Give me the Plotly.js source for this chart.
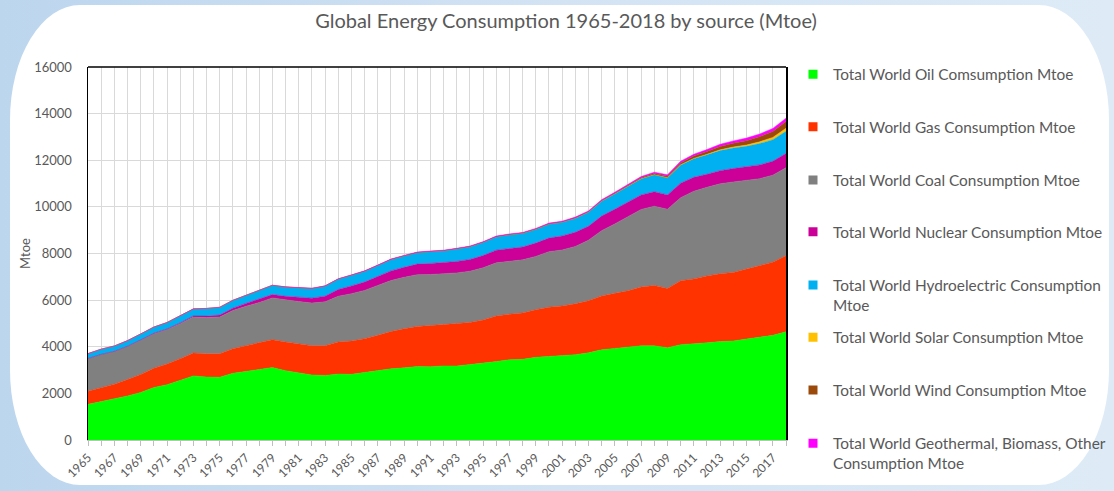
<!DOCTYPE html>
<html>
<head>
<meta charset="utf-8">
<script src="https://cdn.plot.ly/plotly-3.0.1.min.js"></script>
<style>
  html, body { margin: 0; padding: 0; }
  body { width: 1114px; height: 491px; overflow: hidden; position: relative;
         background: linear-gradient(to right, #bcd6ee 0%, #d3e3f4 50%, #deebf7 100%); }
  #panel { position: absolute; left: 10px; top: 5px; width: 1099px; height: 480px;
           background: #ffffff; border-radius: 70px / 115px; }
  #chart { position: absolute; left: 0; top: 0; width: 1114px; height: 491px; }
</style>
</head>
<body>
<div id="panel"></div>
<div id="chart"></div>
<script>
const years = [];
for (let y = 1965; y <= 2018; y++) years.push(y);

const oil = [1530,1641,1751,1890,2042,2252,2371,2555,2750,2700,
             2694,2862,2950,3050,3108,2975,2880,2789,2772,2828,
             2818,2897,2963,3053,3095,3148,3143,3178,3173,3232,
             3280,3364,3447,3460,3545,3579,3602,3660,3740,3870,
             3930,3980,4040,4040,3960,4090,4120,4170,4220,4250,
             4330,4410,4490,4640];
const gas = [560,603,644,700,768,828,885,932,978,995,
             1002,1054,1088,1127,1196,1228,1248,1255,1274,1379,
             1425,1450,1527,1597,1675,1725,1766,1770,1805,1809,
             1866,1955,1952,1988,2040,2118,2150,2180,2230,2310,
             2360,2420,2520,2590,2540,2740,2790,2870,2910,2940,
             3000,3060,3140,3260];
const coal = [1400,1420,1400,1420,1470,1480,1480,1500,1550,1560,
              1580,1640,1700,1720,1790,1800,1810,1830,1880,1960,
              2030,2070,2140,2190,2210,2220,2190,2180,2190,2200,
              2240,2280,2280,2280,2290,2380,2400,2460,2600,2800,
              2980,3170,3330,3400,3400,3560,3760,3800,3860,3880,
              3800,3740,3730,3780];
const nuclear = [6,8,9,12,14,18,26,35,46,59,
                 82,97,122,142,147,161,193,211,242,288,
                 336,358,384,414,428,453,474,477,492,503,
                 526,545,540,551,571,584,601,610,598,625,
                 627,635,622,620,614,626,600,560,563,575,
                 583,591,596,611];
const hydro = [209,223,228,238,254,265,276,290,297,328,
               333,337,350,374,393,399,406,416,435,450,
               461,467,475,491,492,496,514,515,543,550,
               571,577,590,592,596,603,594,604,607,643,
               664,688,698,730,734,780,794,832,862,880,
               883,914,925,949];
const solar = [0,0,0,0,0,0,0,0,0,0,
               0,0,0,0,0,0,0,0,0,0,
               0,0,0,0,0,0.1,0.1,0.1,0.1,0.1,
               0.1,0.1,0.2,0.2,0.2,0.3,0.4,0.5,0.6,0.8,
               1.0,1.3,1.7,2.8,4.6,7.7,14.5,22.6,31.5,43.1,
               56.2,74.5,100,132];
const wind = [0,0,0,0,0,0,0,0,0,0,
              0,0,0,0,0,0,0,0,0,0,
              0.1,0.1,0.2,0.3,0.5,0.9,1,1.2,1.4,1.7,
              1.8,2.7,3.4,4.6,5.7,7,8.7,12,14,19,
              23,30,39,50,63,78,99,118,143,161,
              187,215,255,287];
const other = [2,2,2,3,3,3,3,4,4,4,
               5,5,6,6,7,7,8,9,10,11,
               13,14,15,16,18,19,20,21,22,23,
               24,25,27,28,29,32,32,35,37,40,
               42,46,50,56,61,73,79,87,94,101,
               110,120,130,142];

const seriesNames = [
  'Total World Oil Comsumption Mtoe',
  'Total World Gas Consumption Mtoe',
  'Total World Coal Consumption Mtoe',
  'Total World Nuclear Consumption Mtoe',
  'Total World Hydroelectric Consumption<br>Mtoe',
  'Total World Solar Consumption Mtoe',
  'Total World Wind Consumption Mtoe',
  'Total World Geothermal, Biomass, Other<br>Consumption Mtoe'
];
const seriesValues = [oil, gas, coal, nuclear, hydro, solar, wind, other];
const colors = ['#00ff00','#ff3300','#808080','#cc0099','#00b0f0','#ffc000','#9c4a0c','#ff00ff'];

const tickText = years.map(y => ((y - 1965) % 2 === 0) ? String(y) : '');

const traces = [];
seriesValues.forEach((vals, i) => {
  traces.push({
    type: 'scatter', x: years, y: vals, name: seriesNames[i],
    stackgroup: 'one', mode: 'lines',
    line: {width: 0.5, color: colors[i]}, fillcolor: colors[i],
    showlegend: false, hoverinfo: 'x+y+name'
  });
});
// legend entries (square swatches like the original)
const legendIds = ['legend','legend2','legend3','legend4','legend5','legend6','legend7','legend8'];
seriesNames.forEach((n, i) => {
  traces.push({
    type: 'scatter', x: [null], y: [null], name: n, mode: 'markers',
    marker: {symbol: 'square', size: 9, color: colors[i]},
    showlegend: true, legend: legendIds[i], hoverinfo: 'skip'
  });
});

const L = 88, R = 786, T = 67, B = 440;
const FW = 1114, FH = 491;
// y pixel of the first text line of each legend entry
const legendY = [74.3, 126.7, 180, 231.7, 285, 337.3, 390, 443.3];
const legendFont = {family: 'Lato, "Open Sans", sans-serif', size: 15.4, color: '#595959'};

const layout = {
  width: FW, height: FH,
  margin: {l: L, r: FW - R, t: T, b: FH - B, pad: 0, autoexpand: false},
  paper_bgcolor: 'rgba(0,0,0,0)',
  plot_bgcolor: '#ffffff',
  font: {family: 'Lato, "Open Sans", sans-serif', color: '#595959'},
  title: {text: 'Global Energy Consumption 1965-2018 by source (Mtoe)',
          font: {family: 'Lato, "Open Sans", sans-serif', size: 20, color: '#595959'},
          xref: 'container', x: 566 / FW, xanchor: 'center',
          yref: 'container', y: 1 - 21 / FH, yanchor: 'middle'},
  xaxis: {
    range: [1965, 2018], tickmode: 'array', tickvals: years, ticktext: tickText,
    tickangle: -45, tickfont: {size: 12, color: '#595959'},
    ticks: 'outside', ticklen: 5, tickcolor: '#bfbfbf', automargin: false,
    showgrid: true, gridcolor: '#d9d9d9', gridwidth: 1,
    showline: true, linecolor: '#bfbfbf', linewidth: 1, zeroline: false, fixedrange: true
  },
  yaxis: {
    range: [0, 16000], tickmode: 'linear', tick0: 0, dtick: 2000, tickformat: 'd',
    tickfont: {size: 13, color: '#595959'}, ticks: '', ticklabelstandoff: 12,
    showgrid: true, gridcolor: '#d9d9d9', gridwidth: 1, automargin: false,
    showline: true, linecolor: '#000000', linewidth: 1.5, mirror: true,
    zeroline: false, fixedrange: true,
    title: {text: 'Mtoe', font: {size: 13, color: '#595959'}, standoff: 0}
  },
  shapes: [{type: 'line', xref: 'paper', yref: 'paper', x0: 0, x1: 1, y0: 1, y1: 1,
            line: {color: '#000000', width: 1.5}}],
  showlegend: true
};
legendIds.forEach((id, i) => {
  layout[id] = {
    xref: 'container', yref: 'container',
    x: 793 / FW, xanchor: 'left',
    y: 1 - (legendY[i] - 16.5) / FH, yanchor: 'top', valign: 'top',
    bgcolor: 'rgba(0,0,0,0)', borderwidth: 0,
    font: legendFont, itemclick: false, itemdoubleclick: false
  };
});

Plotly.newPlot('chart', traces, layout, {displayModeBar: false, staticPlot: true});
</script>
</body>
</html>
